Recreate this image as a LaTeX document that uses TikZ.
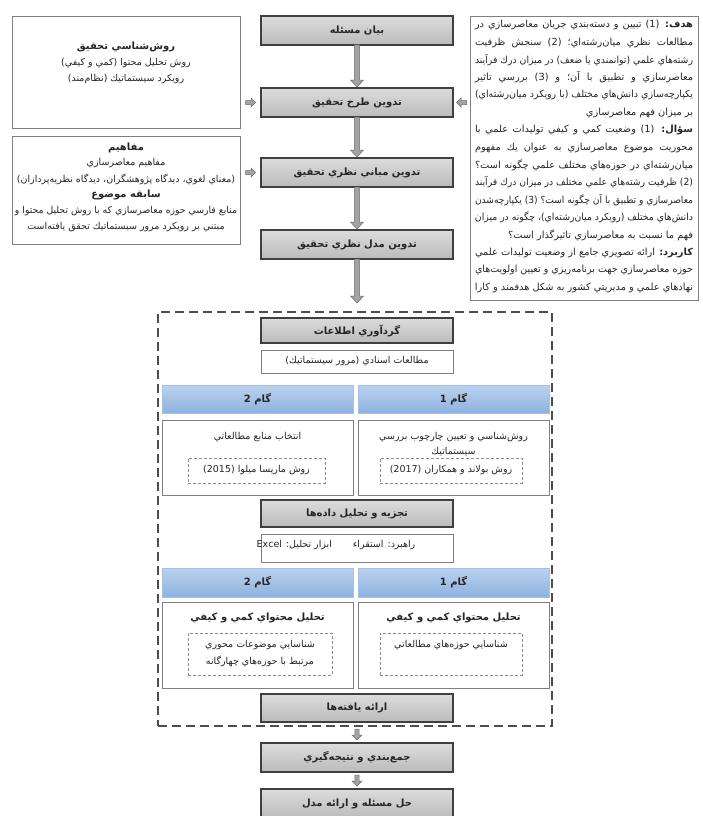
\documentclass[tikz,border=0pt]{standalone}
\usepackage{fontspec}
\usepackage{graphicx}
\usetikzlibrary{calc}
\TeXXeTstate=1
\newfontfamily\fa[Script=Arabic]{DejaVu Sans}
\definecolor{boxedge}{HTML}{3F3F3F}
\definecolor{gtop}{HTML}{DCDCDC}
\definecolor{gbot}{HTML}{BBBBBB}
\definecolor{htop}{HTML}{BCD2EE}
\definecolor{hbot}{HTML}{8DB2E0}
\definecolor{hedge}{HTML}{A6C1E3}
\definecolor{wedge}{HTML}{7F7F7F}
\definecolor{dedge}{HTML}{8C8C8C}
\definecolor{afill}{HTML}{A3A3A3}
\definecolor{aedge}{HTML}{6E6E6E}
\definecolor{odash}{HTML}{4D4D4D}
\definecolor{ink}{HTML}{262626}
\newsavebox\fitbox
\newcommand\fitc[2]{\sbox\fitbox{#2}\ifdim\wd\fitbox>#1\relax\resizebox{#1}{\height}{\usebox\fitbox}\else\usebox\fitbox\fi}
\newcommand\fitj[2]{\sbox\fitbox{#2}\ifdim\wd\fitbox>#1\relax\resizebox{#1}{\height}{\usebox\fitbox}\else\hbox to #1{#2}\fi}
\newcommand\varr[2]{\path[arr] let \p1=#1, \p2=#2 in (\x1-2.6pt,\y1) -- (\x1+2.6pt,\y1) -- (\x1+2.6pt,\y2+7pt) -- (\x1+6.5pt,\y2+7pt) -- (\x1,\y2) -- (\x1-6.5pt,\y2+7pt) -- (\x1-2.6pt,\y2+7pt) -- cycle;}
\newcommand\svarr[2]{\path[arr] let \p1=#1, \p2=#2 in (\x1-2.2pt,\y1) -- (\x1+2.2pt,\y1) -- (\x1+2.2pt,\y2+5pt) -- (\x1+5pt,\y2+5pt) -- (\x1,\y2) -- (\x1-5pt,\y2+5pt) -- (\x1-2.2pt,\y2+5pt) -- cycle;}
\newcommand\rarr[1]{\path[arr] let \p1=#1 in (\x1-5pt,\y1+2pt) -- (\x1+0.5pt,\y1+2pt) -- (\x1+0.5pt,\y1+4.5pt) -- (\x1+5pt,\y1) -- (\x1+0.5pt,\y1-4.5pt) -- (\x1+0.5pt,\y1-2pt) -- (\x1-5pt,\y1-2pt) -- cycle;}
\newcommand\larr[1]{\path[arr] let \p1=#1 in (\x1+5pt,\y1+2pt) -- (\x1-0.5pt,\y1+2pt) -- (\x1-0.5pt,\y1+4.5pt) -- (\x1-5pt,\y1) -- (\x1-0.5pt,\y1-4.5pt) -- (\x1-0.5pt,\y1-2pt) -- (\x1+5pt,\y1-2pt) -- cycle;}
\tikzset{
 every node/.style={inner sep=0pt, outer sep=0pt, text=ink},
 graybox/.style={draw=boxedge, line width=1.1pt, top color=gtop, bottom color=gbot, minimum width=192pt, font=\fa\bfseries\fontsize{10}{12}\selectfont},
 whitebox/.style={draw=wedge, line width=0.7pt, fill=white},
 hdr/.style={draw=hedge, line width=0.6pt, top color=htop, bottom color=hbot, minimum width=191pt, minimum height=28pt, font=\fa\bfseries\fontsize{10}{12}\selectfont},
 dbox/.style={draw=dedge, line width=0.6pt, dash pattern=on 3pt off 2pt},
 dashframe/.style={draw=odash, line width=1.3pt, dash pattern=on 9pt off 5pt},
 sidebox/.style={draw=wedge, line width=0.8pt, fill=white},
 txt/.style={font=\fa\fontsize{9.5}{11}\selectfont},
 btxt/.style={font=\fa\bfseries\fontsize{10}{12}\selectfont},
 rline/.style={anchor=east, font=\fa\fontsize{9.8}{11}\selectfont},
 arr/.style={fill=afill, draw=aedge, line width=0.5pt},
}
\begin{document}
\begin{tikzpicture}[x=1pt,y=-1pt]
\useasboundingbox[fill=white] (0,0) rectangle (702,816);
% side boxes
\node[sidebox, minimum width=228pt, minimum height=112pt] (lb1) at (126,72) {};
\node[sidebox, minimum width=228pt, minimum height=108pt] (lb2) at (126,190) {};
\node[sidebox, minimum width=228pt, minimum height=284pt] (rb) at (584,158) {};
\node[btxt] (lb1a) at (126,47) {\fitc{220pt}{\beginR روش^^^^200cشناسي تحقيق\endR}};
\node[txt] (lb1b) at (126,63) {\fitc{220pt}{\beginR روش تحليل محتوا (كمي و كيفي)\endR}};
\node[txt] (lb1c) at (126,79) {\fitc{220pt}{\beginR رويكرد سيستماتيك (نظام^^^^200cمند)\endR}};
\node[btxt] (lb2a) at (126,148) {\fitc{220pt}{\beginR مفاهيم\endR}};
\node[txt] (lb2b) at (126,163.5) {\fitc{220pt}{\beginR مفاهيم معاصرسازي\endR}};
\node[txt] (lb2c) at (126,179) {\fitc{222pt}{\beginR (معناي لغوي، ديدگاه پژوهشگران، ديدگاه نظريه^^^^200cپردازان)\endR}};
\node[btxt] (lb2d) at (126,195) {\fitc{220pt}{\beginR سابقه موضوع\endR}};
\node[txt] (lb2e) at (126,211) {\fitc{222pt}{\beginR منابع فارسي حوزه معاصرسازي كه با روش تحليل محتوا و\endR}};
\node[txt] (lb2f) at (126,227) {\fitc{222pt}{\beginR مبتني بر رويكرد مرور سيستماتيك تحقق يافته^^^^200cاست\endR}};
% right box lines
\node[rline] (r1) at (693,25) {\fitj{218pt}{\beginR {\bfseries هدف:} (1) تبيين و دسته^^^^200cبندي جريان معاصرسازي در\endR}};
\node[rline] (r2) at (693,42.5) {\fitj{218pt}{\beginR مطالعات نظري ميان^^^^200cرشته^^^^200cاي؛ (2) سنجش ظرفيت\endR}};
\node[rline] (r3) at (693,60) {\fitj{218pt}{\beginR رشته^^^^200cهاي علمي (توانمندي يا ضعف) در ميزان درك فرآيند\endR}};
\node[rline] (r4) at (693,77.5) {\fitj{218pt}{\beginR معاصرسازي و تطبيق با آن؛ و (3) بررسي تاثير\endR}};
\node[rline] (r5) at (693,95) {\fitj{218pt}{\beginR يكپارچه^^^^200cسازي دانش^^^^200cهاي مختلف (با رويكرد ميان^^^^200cرشته^^^^200cاي)\endR}};
\node[rline] (r6) at (693,112.5) {\fitc{218pt}{\beginR بر ميزان فهم معاصرسازي\endR}};
\node[rline] (r7) at (693,130) {\fitj{218pt}{\beginR {\bfseries سؤال:} (1) وضعيت كمي و كيفي توليدات علمي با\endR}};
\node[rline] (r8) at (693,147.5) {\fitj{218pt}{\beginR محوريت موضوع معاصرسازي به عنوان يك مفهوم\endR}};
\node[rline] (r9) at (693,165) {\fitj{218pt}{\beginR ميان^^^^200cرشته^^^^200cاي در حوزه^^^^200cهاي مختلف علمي چگونه است؟\endR}};
\node[rline] (r10) at (693,182.5) {\fitj{218pt}{\beginR (2) ظرفيت رشته^^^^200cهاي علمي مختلف در ميزان درك فرآيند\endR}};
\node[rline] (r11) at (693,200) {\fitj{218pt}{\beginR معاصرسازي و تطبيق با آن چگونه است؟ (3) يكپارچه^^^^200cشدن\endR}};
\node[rline] (r12) at (693,217.5) {\fitj{218pt}{\beginR دانش^^^^200cهاي مختلف (رويكرد ميان^^^^200cرشته^^^^200cاي)، چگونه در ميزان\endR}};
\node[rline] (r13) at (693,235) {\fitc{218pt}{\beginR فهم ما نسبت به معاصرسازي تاثيرگذار است؟\endR}};
\node[rline] (r14) at (693,252.5) {\fitj{218pt}{\beginR {\bfseries كاربرد:} ارائه تصويري جامع از وضعيت توليدات علمي\endR}};
\node[rline] (r15) at (693,270) {\fitj{218pt}{\beginR حوزه معاصرسازي جهت برنامه^^^^200cريزي و تعيين اولويت^^^^200cهاي\endR}};
\node[rline] (r16) at (693,287.5) {\fitc{218pt}{\beginR نهادهاي علمي و مديريتي كشور به شكل هدفمند و كارا\endR}};
% main column
\node[graybox, minimum height=29pt] (b1) at (357,30.5) {\fitc{185pt}{\beginR بيان مسئله\endR}};
\node[graybox, minimum height=29pt] (b2) at (357,102.5) {\fitc{185pt}{\beginR تدوين طرح تحقيق\endR}};
\node[graybox, minimum height=29pt] (b3) at (357,172.5) {\fitc{185pt}{\beginR تدوين مباني نظري تحقيق\endR}};
\node[graybox, minimum height=29pt] (b4) at (357,244.5) {\fitc{185pt}{\beginR تدوين مدل نظري تحقيق\endR}};
% dashed frame
\node[dashframe, minimum width=394pt, minimum height=414pt] (frame) at (355,519) {};
\node[graybox, minimum height=25pt] (g1) at (357,330.5) {\fitc{185pt}{\beginR گردآوري اطلاعات\endR}};
\node[whitebox, minimum width=192pt, minimum height=23pt, txt] (w1) at (357,361.5) {\fitc{185pt}{\beginR مطالعات اسنادي (مرور سيستماتيك)\endR}};
\node[hdr] (h1r) at (453.5,399) {\fitc{180pt}{\beginR گام 1\endR}};
\node[hdr] (h1l) at (257.5,399) {\fitc{180pt}{\beginR گام 2\endR}};
\node[whitebox, minimum width=191pt, minimum height=75pt] (s1r) at (453.5,457.5) {};
\node[whitebox, minimum width=191pt, minimum height=75pt] (s1l) at (257.5,457.5) {};
\node[txt] (s1ra) at (453.5,437) {\fitc{180pt}{\beginR روش^^^^200cشناسي و تعيين چارچوب بررسي\endR}};
\node[txt] (s1rb) at (453.5,452) {\fitc{180pt}{\beginR سيستماتيك\endR}};
\node[txt] (s1la) at (257.5,437) {\fitc{180pt}{\beginR انتخاب منابع مطالعاتي\endR}};
\node[dbox, minimum width=142pt, minimum height=25pt, txt] (d1r) at (451,470.5) {\fitc{136pt}{\beginR روش بولاند و همكاران (2017)\endR}};
\node[dbox, minimum width=137pt, minimum height=25pt, txt] (d1l) at (256.5,470.5) {\fitc{130pt}{\beginR روش ماريسا ميلوا (2015)\endR}};
\node[graybox, minimum height=27pt] (g2) at (357,513.5) {\fitc{185pt}{\beginR تجزيه و تحليل داده^^^^200cها\endR}};
\node[whitebox, minimum width=192pt, minimum height=28pt] (w2) at (357,548) {};
\node[txt] (w2t) at (336,545) {\fitc{180pt}{\beginR راهبرد: استقراء\hspace{2.2em}ابزار تحليل: Excel\endR}};
\node[hdr, minimum height=29pt] (h2r) at (453.5,582.5) {\fitc{180pt}{\beginR گام 1\endR}};
\node[hdr, minimum height=29pt] (h2l) at (257.5,582.5) {\fitc{180pt}{\beginR گام 2\endR}};
\node[whitebox, minimum width=191pt, minimum height=86pt] (s2r) at (453.5,645) {};
\node[whitebox, minimum width=191pt, minimum height=86pt] (s2l) at (257.5,645) {};
\node[btxt] (s2ra) at (453.5,618) {\fitc{180pt}{\beginR تحليل محتواي كمي و كيفي\endR}};
\node[btxt] (s2la) at (257.5,618) {\fitc{180pt}{\beginR تحليل محتواي كمي و كيفي\endR}};
\node[dbox, minimum width=142pt, minimum height=42pt] (d2r) at (451,654) {};
\node[dbox, minimum width=144pt, minimum height=42pt] (d2l) at (260,654) {};
\node[txt] (d2rt) at (451,645) {\fitc{136pt}{\beginR شناسايي حوزه^^^^200cهاي مطالعاتي\endR}};
\node[txt] (d2lt1) at (260,645) {\fitc{136pt}{\beginR شناسايي موضوعات محوري\endR}};
\node[txt] (d2lt2) at (260,661) {\fitc{136pt}{\beginR مرتبط با حوزه^^^^200cهاي چهارگانه\endR}};
\node[graybox, minimum height=28pt] (g3) at (357,708) {\fitc{185pt}{\beginR ارائه يافته^^^^200cها\endR}};
% bottom
\node[graybox, minimum height=29pt] (b5) at (357,757.5) {\fitc{185pt}{\beginR جمع^^^^200cبندي و نتيجه^^^^200cگيري\endR}};
\node[graybox, minimum height=29pt] (b6) at (357,803.5) {\fitc{185pt}{\beginR حل مسئله و ارائه مدل\endR}};
% arrows
\varr{(b1.south)}{($(b2.north)+(0,-1)$)}
\varr{(b2.south)}{($(b3.north)+(0,-1)$)}
\varr{(b3.south)}{($(b4.north)+(0,-1)$)}
\varr{(b4.south)}{($(b4.south|-frame.north)+(0,-9)$)}
\svarr{($(b5.north|-frame.south)+(0,3)$)}{($(b5.north)+(0,-3)$)}
\svarr{($(b5.south)+(0,3)$)}{($(b6.north)+(0,-3)$)}
\rarr{($(lb1.east|-b2.west)!0.5!(b2.west)$)}
\rarr{($(lb2.east|-b3.west)!0.5!(b3.west)$)}
\larr{($(b2.east)!0.5!(rb.west|-b2.east)$)}
\end{tikzpicture}
\end{document}
